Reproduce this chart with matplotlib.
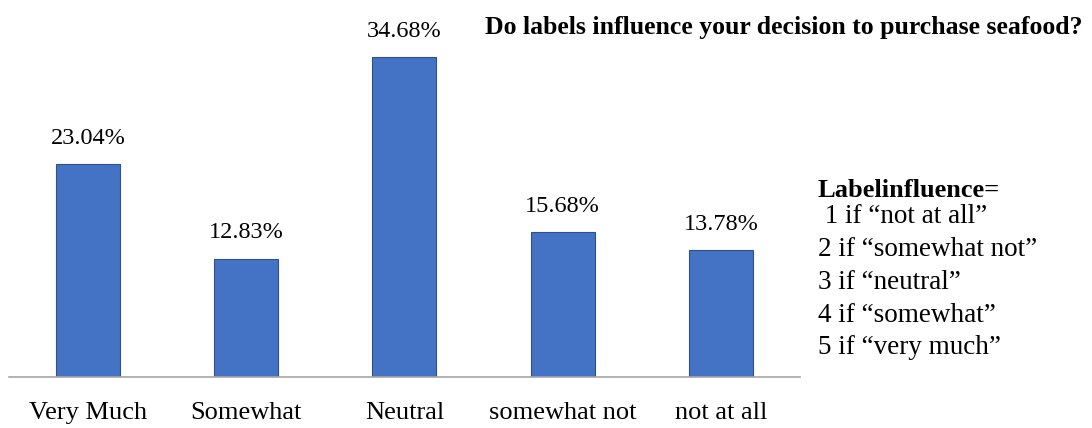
import numpy as np
import matplotlib.pyplot as plt

categories = ["Very Much", "Somewhat", "Neutral", "somewhat not", "not at all"]
shares = [23.04, 12.83, 34.68, 15.68, 13.78]
title = "Do labels influence your decision to purchase seafood?"
key_title = "Labelinfluence="
key_lines = [" 1 if \u201cnot at all\u201d",
             "2 if \u201csomewhat not\u201d",
             "3 if \u201cneutral\u201d",
             "4 if \u201csomewhat\u201d",
             "5 if \u201cvery much\u201d"]

plt.rcParams['font.family'] = ['Liberation Serif', 'DejaVu Serif']

fig = plt.figure(figsize=(10.92, 4.28), dpi=100)
ax = fig.add_axes([0.008, 0.1192, 0.7247, 0.862])

x = np.arange(len(categories))
bars = ax.bar(x, shares, width=0.405, color='#4472C4', edgecolor='#2F528F', linewidth=0.8)

for rect, v in zip(bars, shares):
    ax.annotate(f"{v:.2f}%", (rect.get_x() + rect.get_width() / 2, rect.get_height()),
                xytext=(0, 11), textcoords='offset points', ha='center', va='bottom',
                fontsize=17.5)

ax.set_xlim(-0.5, len(categories) - 0.5)
ax.set_ylim(0, 40)
ax.set_xticks(x)
ax.set_xticklabels(categories, fontsize=19)
ax.tick_params(axis='x', length=0, pad=18)
ax.set_yticks([])
for s in ['top', 'right', 'left']:
    ax.spines[s].set_visible(False)
ax.spines['bottom'].set_color('#A6A6A6')
ax.spines['bottom'].set_linewidth(1.2)

fig.text(0.718, 0.935, title, ha='center', va='center', fontsize=18.5, fontweight='bold')
fig.text(0.749, 0.556, key_title, ha='left', va='center', fontsize=19, fontweight='bold')
for i, line in enumerate(key_lines):
    fig.text(0.749, 0.493 - i * 0.0765, line, ha='left', va='center', fontsize=19.5)

fig.savefig('out.png', dpi=100)
